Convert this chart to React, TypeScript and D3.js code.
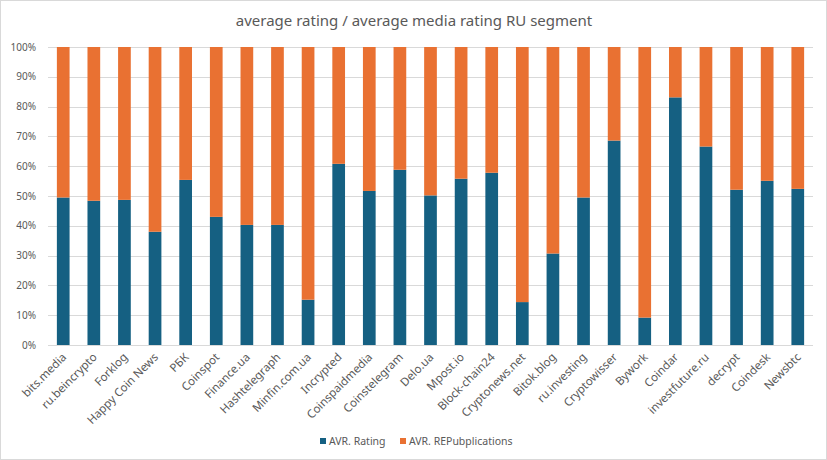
import React, { useEffect, useRef } from "react";
import * as d3 from "d3";

const categories = [
  "bits.media", "ru.beincrypto", "Forklog", "Happy Coin News", "РБК",
  "Coinspot", "Finance.ua", "Hashtelegraph", "Minfin.com.ua", "Incrypted",
  "Coinspaidmedia", "Coinstelegram", "Delo.ua", "Mpost.io", "Block-chain24",
  "Cryptonews.net", "Bitok.blog", "ru.investing", "Cryptowisser", "Bywork",
  "Coindar", "investfuture.ru", "decrypt", "Coindesk", "Newsbtc",
];

// share of each series in percent
const avrRating = [
  49.5, 48.4, 48.7, 38.0, 55.4, 43.0, 40.3, 40.3, 15.2, 60.8,
  51.7, 58.8, 50.2, 55.8, 57.8, 14.4, 30.7, 49.5, 68.6, 9.2,
  83.1, 66.6, 52.1, 55.1, 52.4,
];
const avrRepublications = [
  50.5, 51.6, 51.3, 62.0, 44.6, 57.0, 59.7, 59.7, 84.8, 39.2,
  48.3, 41.2, 49.8, 44.2, 42.2, 85.6, 69.3, 50.5, 31.4, 90.8,
  16.9, 33.4, 47.9, 44.9, 47.6,
];

const seriesNames = ["AVR. Rating", "AVR. REPubplications"];
const seriesColors = ["#156082", "#E97132"];
const yTicks = [0, 0.1, 0.2, 0.3, 0.4, 0.5, 0.6, 0.7, 0.8, 0.9, 1];

const W = 827;
const H = 460;
const FONT = "'Noto Sans', 'Open Sans', sans-serif";

const App: React.FC = () => {
  const svgRef: any = useRef();

  useEffect(() => {
    const svg = d3.select(svgRef.current);
    svg.selectAll("*").remove();

    const marginLeft = 48;
    const marginRight = 14;
    const marginTop = 47;
    const plotBottom = 345;

    const x = d3
      .scaleBand()
      .domain(categories)
      .range([marginLeft, W - marginRight])
      .paddingInner(0.585)
      .paddingOuter(0.29);

    const y = d3.scaleLinear().domain([0, 1]).range([plotBottom, marginTop]);

    svg
      .append("rect")
      .attr("x", 0.5)
      .attr("y", 0.5)
      .attr("width", W - 1)
      .attr("height", H - 1)
      .attr("fill", "#fff")
      .attr("stroke", "#d9d9d9");

    svg
      .append("text")
      .attr("x", 414)
      .attr("y", 26)
      .attr("text-anchor", "middle")
      .attr("font-size", "15px")
      .attr("fill", "#595959")
      .text("average rating / average media rating RU segment");

    yTicks.forEach((t) => {
      svg
        .append("line")
        .attr("x1", marginLeft)
        .attr("x2", W - marginRight)
        .attr("y1", Math.round(y(t)) + 0.5)
        .attr("y2", Math.round(y(t)) + 0.5)
        .attr("stroke", "#d9d9d9")
        .attr("stroke-width", 1);

      svg
        .append("text")
        .attr("x", 36)
        .attr("y", y(t))
        .attr("dy", "0.35em")
        .attr("text-anchor", "end")
        .attr("font-size", "10px")
        .attr("fill", "#595959")
        .text(d3.format(".0%")(t));
    });

    const rows = categories.map((c, i) => {
      const total = avrRating[i] + avrRepublications[i];
      return { name: c, rating: avrRating[i] / total, rep: avrRepublications[i] / total };
    });

    const stacked = d3.stack<any>().keys(["rating", "rep"])(rows);

    stacked.forEach((layer, k) => {
      svg
        .append("g")
        .attr("fill", seriesColors[k])
        .selectAll("rect")
        .data(layer)
        .join("rect")
        .attr("x", (d: any) => x(d.data.name) as number)
        .attr("width", x.bandwidth())
        .attr("y", (d: any) => y(d[1]))
        .attr("height", (d: any) => y(d[0]) - y(d[1]));
    });

    categories.forEach((c) => {
      const cx = (x(c) as number) + x.bandwidth() / 2;
      svg
        .append("text")
        .attr("transform", `translate(${cx + 1},${plotBottom + 10}) rotate(-45)`)
        .attr("text-anchor", "end")
        .attr("dy", "0.35em")
        .attr("font-size", "11.5px")
        .attr("fill", "#595959")
        .text(c);
    });

    const legendX = [320, 400];
    seriesNames.forEach((s, k) => {
      svg
        .append("rect")
        .attr("x", legendX[k])
        .attr("y", 438)
        .attr("width", 6)
        .attr("height", 6)
        .attr("fill", seriesColors[k]);
      svg
        .append("text")
        .attr("x", legendX[k] + 9)
        .attr("y", 441)
        .attr("dy", "0.35em")
        .attr("font-size", "10.5px")
        .attr("fill", "#595959")
        .text(s);
    });
  }, []);

  return (
    <svg
      ref={svgRef}
      width={W}
      height={H}
      style={{ position: "absolute", left: 0, top: 0, fontFamily: FONT }}
    />
  );
};

export default App;
